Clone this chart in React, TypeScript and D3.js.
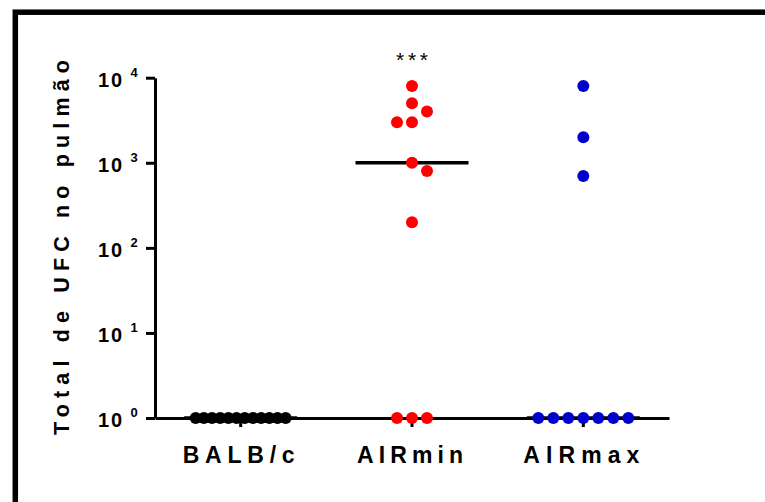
import React, { useRef, useEffect } from "react";
import * as d3 from "d3";

const categories = ["BALB/c", "AIRmin", "AIRmax"];
const balbValues = [1, 1, 1, 1, 1, 1, 1, 1, 1, 1, 1, 1];
const airMinValues = [8000, 5000, 4000, 3000, 3000, 1000, 800, 200, 1, 1, 1];
const airMaxValues = [8000, 2000, 700, 1, 1, 1, 1, 1, 1, 1];
const groupColors = ["#000000", "#ff0000", "#0000cc"];
const yTicks = [1, 10, 100, 1000, 10000];
const tickExponents = ["0", "1", "2", "3", "4"];
const significance = ["", "***", ""];
const yTitle = "Total de UFC no pulmão";

const width = 765;
const height = 502;
const margin = { top: 77.7, bottom: 84, left: 155, right: 96 };
const r = 6;
const font = "Arial, 'Liberation Sans', sans-serif";

// simple beeswarm: floor values go in a row, the rest find the nearest free slot
function layout(values: number[], y: (v: number) => number) {
  const floor = d3.min(values) as number;
  const placed: { v: number; dx: number; y: number }[] = [];
  const row = values.filter((v) => v === floor);
  const step = row.length > 1 ? Math.min(15, 90 / (row.length - 1)) : 0;
  row.forEach((v, i) => {
    placed.push({ v, dx: (i - (row.length - 1) / 2) * step, y: y(v) });
  });
  const others: { v: number; dx: number; y: number }[] = [];
  values
    .filter((v) => v !== floor)
    .forEach((v) => {
      const py = y(v);
      let dx = 0;
      for (let k = 0; k < 13; k++) {
        const c = k === 0 ? 0 : Math.ceil(k / 2) * 7.5 * (k % 2 ? 1 : -1);
        const hit = others.some((p) => Math.hypot(p.dx - c, p.y - py) < 13);
        if (!hit) {
          dx = c;
          break;
        }
      }
      others.push({ v, dx, y: py });
    });
  return placed.concat(others);
}

const App = () => {
  const ref = useRef<SVGSVGElement>(null);

  useEffect(() => {
    document.body.style.margin = "0";
    const svg = d3.select(ref.current);
    svg.selectAll("*").remove();

    const x = d3
      .scaleBand()
      .domain(categories)
      .range([margin.left, width - margin.right]);
    const y = d3
      .scaleLog()
      .domain([1, 10000])
      .range([height - margin.bottom, margin.top]);

    // frame
    svg
      .append("rect")
      .attr("x", 15.3)
      .attr("y", 12.2)
      .attr("width", 800)
      .attr("height", 600)
      .attr("fill", "none")
      .attr("stroke", "#000")
      .attr("stroke-width", 5.5);

    const yAxis = svg
      .append("g")
      .attr("transform", `translate(${margin.left},0)`)
      .call(
        d3
          .axisLeft(y)
          .tickValues(yTicks)
          .tickSize(9)
          .tickSizeOuter(0)
          .tickFormat(() => "")
      );
    yAxis.selectAll("path, line").attr("stroke", "#000").attr("stroke-width", 3);

    const xAxis = svg
      .append("g")
      .attr("transform", `translate(0,${y(1)})`)
      .call(d3.axisBottom(x).tickSize(9).tickSizeOuter(0).tickFormat(() => ""));
    xAxis.selectAll("path, line").attr("stroke", "#000").attr("stroke-width", 3);

    // y tick labels with superscripts
    yTicks.forEach((t, i) => {
      svg
        .append("text")
        .attr("x", 98)
        .attr("y", y(t) + 9)
        .attr("font-family", font)
        .attr("font-weight", "bold")
        .attr("font-size", 20)
        .attr("textLength", 24)
        .attr("lengthAdjust", "spacing")
        .text("10");
      svg
        .append("text")
        .attr("x", 130.5)
        .attr("y", y(t) - 1)
        .attr("font-family", font)
        .attr("font-weight", "bold")
        .attr("font-size", 13)
        .text(tickExponents[i]);
    });

    // category labels
    const labelLengths = [112, 106, 116];
    categories.forEach((c, i) => {
      svg
        .append("text")
        .attr("x", (x(c) as number) + x.bandwidth() / 2 - 2)
        .attr("y", 463)
        .attr("text-anchor", "middle")
        .attr("font-family", font)
        .attr("font-weight", "bold")
        .attr("font-size", 23)
        .attr("textLength", labelLengths[i])
        .attr("lengthAdjust", "spacing")
        .text(c);
    });

    // y title
    svg
      .append("text")
      .attr("transform", "translate(69,247.5) rotate(-90)")
      .attr("text-anchor", "middle")
      .attr("font-family", font)
      .attr("font-weight", "bold")
      .attr("font-size", 21.5)
      .attr("textLength", 375)
      .attr("lengthAdjust", "spacing")
      .text(yTitle);

    const groups = [balbValues, airMinValues, airMaxValues];
    groups.forEach((vals, i) => {
      const cx = (x(categories[i]) as number) + x.bandwidth() / 2;
      const med = d3.median(vals) as number;
      svg
        .append("line")
        .attr("x1", cx - 56.5)
        .attr("x2", cx + 56.5)
        .attr("y1", y(med))
        .attr("y2", y(med))
        .attr("stroke", "#000")
        .attr("stroke-width", 3.5);

      svg
        .append("g")
        .selectAll("circle")
        .data(layout(vals, y))
        .enter()
        .append("circle")
        .attr("cx", (d) => cx + d.dx)
        .attr("cy", (d) => d.y)
        .attr("r", r)
        .attr("fill", groupColors[i]);

      if (significance[i]) {
        svg
          .append("text")
          .attr("x", cx)
          .attr("y", 67)
          .attr("text-anchor", "middle")
          .attr("font-family", font)
          .attr("font-size", 21)
          .attr("textLength", 32)
          .attr("lengthAdjust", "spacing")
          .text(significance[i]);
      }
    });
  });

  return (
    <svg
      ref={ref}
      width={width}
      height={height}
      style={{ display: "block", background: "#fff" }}
    ></svg>
  );
};

export default App;
